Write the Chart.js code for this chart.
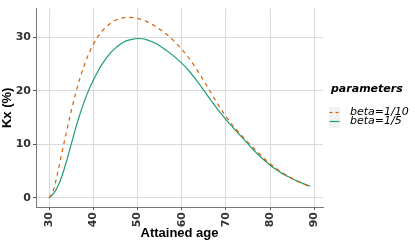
<!DOCTYPE html>
<html>
<head>
<meta charset="utf-8">
<script src="https://cdn.jsdelivr.net/npm/chart.js@4"></script>
<style>
  html, body { margin: 0; padding: 0; background: #ffffff; }
  #grafica { display: block; }
</style>
</head>
<body>
<canvas id="grafica" width="415" height="244"></canvas>
<script>
// Edades alcanzadas (eje x)
const edades = [30, 31, 32, 33, 34, 35, 36, 37, 38, 39,
                40, 41, 42, 43, 44, 45, 46, 47, 48, 49,
                50, 51, 52, 53, 54, 55, 56, 57, 58, 59,
                60, 61, 62, 63, 64, 65, 66, 67, 68, 69,
                70, 71, 72, 73, 74, 75, 76, 77, 78, 79,
                80, 81, 82, 83, 84, 85, 86, 87, 88, 89];

// Kx (%) para beta=1/10
const kxBeta10 = [0, 1.5, 4.9, 8.8, 12.6, 16.2, 19.5, 22.4, 24.9, 27.0,
                  28.7, 30.1, 31.2, 32.0, 32.7, 33.2, 33.5, 33.7, 33.75, 33.7,
                  33.55, 33.3, 33.0, 32.6, 32.1, 31.55, 30.95, 30.3, 29.55, 28.7,
                  27.8, 26.8, 25.7, 24.5, 23.25, 21.9, 20.5, 19.1, 17.75, 16.45,
                  15.25, 14.15, 13.1, 12.15, 11.25, 10.4, 9.55, 8.7, 7.9, 7.1,
                  6.4, 5.75, 5.15, 4.6, 4.1, 3.65, 3.2, 2.85, 2.5, 2.2];

// Kx (%) para beta=1/5
const kxBeta5 = [0, 0.8, 2.2, 4.3, 7.0, 10.0, 13.0, 15.7, 18.1, 20.2,
                 22.0, 23.6, 25.0, 26.2, 27.2, 28.0, 28.7, 29.2, 29.5, 29.7,
                 29.8, 29.75, 29.6, 29.3, 28.9, 28.45, 27.9, 27.3, 26.65, 25.95,
                 25.2, 24.35, 23.4, 22.35, 21.25, 20.1, 18.95, 17.8, 16.7, 15.65,
                 14.65, 13.7, 12.8, 11.9, 11.0, 10.1, 9.2, 8.35, 7.55, 6.8,
                 6.1, 5.5, 4.95, 4.45, 4.0, 3.6, 3.2, 2.85, 2.5, 2.2];

const ticksX = [30, 40, 50, 60, 70, 80, 90];
const ticksY = [0, 10, 20, 30];
const nombresSeries = ['beta=1/10', 'beta=1/5'];
const coloresSeries = ['#D95F02', '#1B9E77'];

const fuenteTicks = { family: 'DejaVu Sans', size: 11, weight: 'bold' };
const fuenteTitulo = { family: 'Liberation Sans', size: 13, weight: 'bold' };

// Leyenda dibujada a mano, al estilo ggplot
const leyendaPlugin = {
    id: 'leyendaParametros',
    afterDraw(chart) {
        const ctx = chart.ctx;
        ctx.save();
        ctx.fillStyle = '#000000';
        ctx.font = 'italic bold 11px "DejaVu Sans"';
        ctx.textBaseline = 'alphabetic';
        ctx.textAlign = 'left';
        ctx.fillText('parameters', 331, 92);

        const filas = [112, 121];
        ctx.fillStyle = '#f2f2f2';
        ctx.fillRect(329, 107, 11, 21);
        filas.forEach((y, i) => {
            ctx.beginPath();
            ctx.strokeStyle = coloresSeries[i];
            ctx.lineWidth = 1.2;
            ctx.setLineDash(i === 0 ? [3, 3] : []);
            ctx.moveTo(329.5, y + 0.5);
            ctx.lineTo(339.5, y + 0.5);
            ctx.stroke();
            ctx.setLineDash([]);
            ctx.fillStyle = '#000000';
            ctx.font = 'italic 11px "DejaVu Sans"';
            ctx.textBaseline = 'middle';
            ctx.fillText(nombresSeries[i], 350, y + 0.5);
        });
        ctx.restore();
    }
};

const ctx = document.getElementById('grafica').getContext('2d');
new Chart(ctx, {
    type: 'line',
    data: {
        datasets: [
            {
                label: nombresSeries[0],
                data: edades.map((e, i) => ({ x: e, y: kxBeta10[i] })),
                borderColor: coloresSeries[0],
                borderWidth: 1.2,
                borderDash: [4, 4],
                pointRadius: 0,
                cubicInterpolationMode: 'monotone',
                fill: false
            },
            {
                label: nombresSeries[1],
                data: edades.map((e, i) => ({ x: e, y: kxBeta5[i] })),
                borderColor: coloresSeries[1],
                borderWidth: 1.2,
                pointRadius: 0,
                cubicInterpolationMode: 'monotone',
                fill: false
            }
        ]
    },
    options: {
        responsive: false,
        animation: false,
        devicePixelRatio: 1,
        layout: { padding: { top: 2, right: 92, left: 0, bottom: 0 } },
        plugins: {
            legend: { display: false },
            tooltip: { enabled: false }
        },
        scales: {
            x: {
                type: 'linear',
                min: 27.05,
                max: 91.95,
                afterBuildTicks: s => { s.ticks = ticksX.map(v => ({ value: v })); },
                afterFit: s => { s.height = 37; },
                ticks: {
                    minRotation: 90,
                    maxRotation: 90,
                    padding: 2,
                    color: '#333333',
                    font: fuenteTicks
                },
                grid: { color: '#dadada', tickColor: '#555555', tickLength: 3 },
                border: { color: '#777777', width: 1 },
                title: {
                    display: true,
                    text: 'Attained age',
                    color: '#000000',
                    font: fuenteTitulo,
                    padding: { top: 0, bottom: 3 }
                }
            },
            y: {
                min: -1.69,
                max: 35.39,
                afterBuildTicks: s => { s.ticks = ticksY.map(v => ({ value: v })); },
                afterFit: s => { s.width = 36; },
                ticks: {
                    padding: 2,
                    color: '#333333',
                    font: fuenteTicks
                },
                grid: { color: '#dadada', tickColor: '#555555', tickLength: 3 },
                border: { color: '#777777', width: 1 },
                title: {
                    display: true,
                    text: 'Kx (%)',
                    color: '#000000',
                    font: fuenteTitulo,
                    padding: { top: 0, bottom: 0 }
                }
            }
        }
    },
    plugins: [leyendaPlugin]
});
</script>
</body>
</html>
